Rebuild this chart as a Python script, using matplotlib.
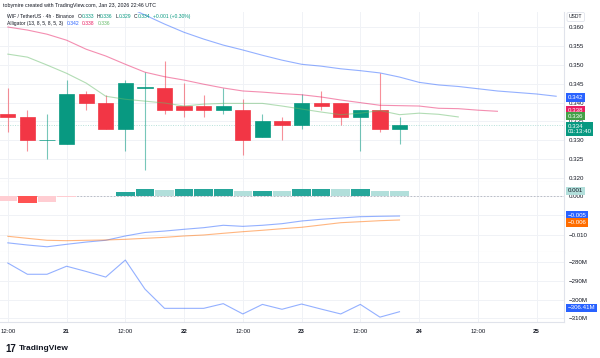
import matplotlib
matplotlib.use("Agg")
import matplotlib.pyplot as plt
from matplotlib.ticker import FuncFormatter

plt.rcParams['font.family'] = ['Liberation Sans', 'DejaVu Sans']

# WIF/USDT 4h candles, 20 Jan 12:00 -> 23 Jan 16:00
opens = [0.3371, 0.3361, 0.3300, 0.3290, 0.3422, 0.3400, 0.3329, 0.3440, 0.3440, 0.3391, 0.3391,
         0.3380, 0.3380, 0.3309, 0.3351, 0.3340, 0.3400, 0.3400, 0.3361, 0.3380, 0.3330]
highs = [0.3440, 0.3380, 0.3371, 0.3460, 0.3431, 0.3420, 0.3460, 0.3482, 0.3511, 0.3451, 0.3420,
         0.3439, 0.3410, 0.3371, 0.3361, 0.3422, 0.3430, 0.3400, 0.3380, 0.3480, 0.3361]
lows = [0.3321, 0.3271, 0.3251, 0.3289, 0.3380, 0.3329, 0.3271, 0.3220, 0.3371, 0.3361, 0.3361,
        0.3371, 0.3260, 0.3309, 0.3302, 0.3331, 0.3380, 0.3340, 0.3271, 0.3321, 0.3291]
closes = [0.3361, 0.3300, 0.3301, 0.3422, 0.3400, 0.3329, 0.3451, 0.3441, 0.3380, 0.3380, 0.3380,
          0.3391, 0.3300, 0.3351, 0.3340, 0.3400, 0.3391, 0.3361, 0.3380, 0.3331, 0.3340]

# alligator (shifted forward), first bar index of each line
jaw_start = 5
jaw = [0.3675, 0.3657, 0.3633, 0.3609, 0.3587, 0.3569, 0.3553, 0.3540, 0.3526, 0.3513, 0.3502,
       0.3497, 0.3490, 0.3485, 0.3479, 0.3468, 0.3454, 0.3447, 0.3443, 0.3437, 0.3431, 0.3427,
       0.3423, 0.3417]
teeth_start = 0
teeth = [0.3601, 0.3593, 0.3582, 0.3566, 0.3542, 0.3524, 0.3502, 0.3481, 0.3469, 0.3460, 0.3449,
         0.3439, 0.3431, 0.3428, 0.3424, 0.3421, 0.3415, 0.3407, 0.3400, 0.3393, 0.3392, 0.3391,
         0.3385, 0.3384, 0.3380, 0.3377]
lips_start = 0
lips = [0.3529, 0.3521, 0.3500, 0.3478, 0.3452, 0.3417, 0.3409, 0.3404, 0.3399, 0.3391, 0.3396,
        0.3398, 0.3398, 0.3398, 0.3391, 0.3383, 0.3375, 0.3368, 0.3372, 0.3379, 0.3368, 0.3372,
        0.3369, 0.3362]

macd_hist = [-0.00135, -0.0018, -0.0015, -0.00045, 0.00004, 0.00003, 0.0010, 0.0016, 0.00158,
             0.00162, 0.00165, 0.0017, 0.0012, 0.00122, 0.0012, 0.0016, 0.00168, 0.00165, 0.0017,
             0.0013, 0.0012]
macd_line = [-0.0120, -0.01255, -0.0130, -0.01237, -0.0118, -0.01135, -0.01025, -0.00936, -0.0090,
             -0.00855, -0.00814, -0.00753, -0.0078, -0.00753, -0.00712, -0.00644, -0.0060,
             -0.00567, -0.00534, -0.00524, -0.00517]
signal_line = [-0.01033, -0.01085, -0.01135, -0.01145, -0.01135, -0.01127, -0.0111, -0.01085,
               -0.0106, -0.01025, -0.0100, -0.00957, -0.00916, -0.0088, -0.0084, -0.00804,
               -0.00746, -0.00687, -0.00662, -0.00636, -0.00618]

obv = [-280.4, -286.4, -286.4, -282.1, -284.9, -287.9, -278.8, -294.3, -304.6, -304.6, -304.6,
       -302.1, -307.6, -302.5, -305.1, -302.3, -305.0, -307.6, -302.5, -309.3, -306.41]

tick_bars = [0, 3, 6, 9, 12, 15, 18, 21, 24, 27]
tick_labels = ['12:00', '21', '12:00', '22', '12:00', '23', '12:00', '24', '12:00', '25']
price_ticks = [0.320, 0.325, 0.330, 0.335, 0.340, 0.345, 0.350, 0.355, 0.360]
macd_ticks = [0.0, -0.005, -0.010]
obv_ticks = [-280, -290, -300, -310]

UP, DOWN = '#089981', '#f23645'
BLUE, PINK, GREEN, ORANGE = '#2962ff', '#e91e63', '#66bb6a', '#ff6d00'
TXT = '#131722'
GRID = '#f0f2f6'
BORDER = '#e0e3eb'
W, H = 600, 358
AX_FS = 4.4     # price / time scale text
LEG_FS = 3.6    # legends

fig = plt.figure(figsize=(W / 100, H / 100), dpi=100)


def box(x0, y0, x1, y1):
    return [x0 / W, 1 - y1 / H, (x1 - x0) / W, (y1 - y0) / H]


ax_p = fig.add_axes(box(0, 12, 564, 182))
ax_m = fig.add_axes(box(0, 182, 564, 252), sharex=ax_p)
ax_o = fig.add_axes(box(0, 252, 564, 322), sharex=ax_p)

for ax in (ax_p, ax_m, ax_o):
    ax.set_facecolor('white')
    for s in ('left', 'top'):
        ax.spines[s].set_visible(False)
    for s in ('right', 'bottom'):
        ax.spines[s].set_color(BORDER)
        ax.spines[s].set_linewidth(0.8)
    ax.yaxis.tick_right()
    ax.tick_params(axis='y', length=0, pad=3.5, labelsize=AX_FS, labelcolor=TXT)
    ax.tick_params(axis='x', length=0)
    ax.set_xticks(tick_bars)
    ax.grid(True, color=GRID, lw=0.7, zorder=0)
    ax.set_axisbelow(True)

ax_p.set_xlim(-0.4, 28.4)
ax_p.tick_params(axis='x', labelbottom=False)
ax_m.tick_params(axis='x', labelbottom=False)

# candles
n = len(closes)
xs = list(range(n))
cols = [UP if c >= o else DOWN for o, c in zip(opens, closes)]
ax_p.vlines(xs, lows, highs, colors=cols, lw=0.8, alpha=0.55, zorder=2)
ax_p.bar(xs, [c - o for o, c in zip(opens, closes)], bottom=opens, width=0.78,
         color=cols, edgecolor=cols, linewidth=0.5, zorder=3)

ax_p.plot(range(jaw_start, jaw_start + len(jaw)), jaw, color=BLUE, lw=0.8, alpha=0.5, zorder=4)
ax_p.plot(range(teeth_start, teeth_start + len(teeth)), teeth, color=PINK, lw=0.8, alpha=0.5, zorder=4)
ax_p.plot(range(lips_start, lips_start + len(lips)), lips, color=GREEN, lw=0.8, alpha=0.5, zorder=4)
ax_p.axhline(closes[-1], color=UP, lw=0.7, ls=(0, (1, 1.5)), alpha=0.3, zorder=1)

ax_p.set_ylim(0.3189, 0.3641)
ax_p.set_yticks(price_ticks)
ax_p.yaxis.set_major_formatter(FuncFormatter(lambda v, _: f'{v:.3f}'))

# MACD
hist_cols = []
for i, h in enumerate(macd_hist):
    prev = macd_hist[i - 1] if i else h - 1
    if h >= 0:
        hist_cols.append('#26a69a' if h > prev else '#b2dfdb')
    else:
        hist_cols.append('#ffcdd2' if h > prev else '#ff5252')
ax_m.axhline(0, color='#b2b5be', lw=0.6, ls=(0, (2, 2)), zorder=1)
ax_m.bar(xs, macd_hist, width=0.95, color=hist_cols, zorder=2)
ax_m.plot(xs, macd_line, color=BLUE, lw=0.8, alpha=0.5, zorder=3)
ax_m.plot(xs, signal_line, color=ORANGE, lw=0.8, alpha=0.5, zorder=3)
ax_m.set_ylim(-0.01433, 0.00349)
ax_m.set_yticks(macd_ticks)
ax_m.yaxis.set_major_formatter(FuncFormatter(lambda v, _: f'{v:.3f}'.replace('-', '\u2212')))

# OBV (millions)
ax_o.plot(xs, obv, color=BLUE, lw=0.8, alpha=0.5, zorder=3)
ax_o.set_ylim(-311.9, -274.5)
ax_o.set_yticks(obv_ticks)
ax_o.yaxis.set_major_formatter(FuncFormatter(lambda v, _: f'{v:.0f}M'.replace('-', '\u2212')))
ax_o.set_xticklabels(tick_labels)
ax_o.tick_params(axis='x', pad=5, labelsize=AX_FS, labelcolor=TXT)
for lab in ax_o.get_xticklabels():
    if ':' not in lab.get_text():
        lab.set_fontweight('bold')


def tag(ax, y, text, fc, tc='white', dy=0, va='center'):
    ax.annotate(text, xy=(1, y), xycoords=('axes fraction', 'data'), xytext=(2.5, dy),
                textcoords='offset points', ha='left', va=va, fontsize=AX_FS, color=tc,
                linespacing=1.0, annotation_clip=False, zorder=20,
                bbox=dict(boxstyle='square,pad=0.3', fc=fc, ec='none'))


tag(ax_p, jaw[-1], f'{jaw[-1]:.3f}', BLUE, dy=-0.8)
tag(ax_p, teeth[-1], f'{teeth[-1]:.3f}', PINK, dy=0.8)
tag(ax_p, lips[-1], f'{lips[-1]:.3f}', '#43a047', dy=0.6)
tag(ax_p, closes[-1], f'{closes[-1]:.3f}\n01:13:40', UP, dy=1.0, va='top')
tag(ax_m, macd_hist[-1], f'{macd_hist[-1]:.3f}', '#b2dfdb', tc=TXT)
tag(ax_m, macd_line[-1], f'{macd_line[-1]:.3f}'.replace('-', '\u2212'), BLUE, dy=0.4)
tag(ax_m, signal_line[-1], f'{signal_line[-1]:.3f}'.replace('-', '\u2212'), ORANGE, dy=-1.8)
tag(ax_o, obv[-1], f'{obv[-1]:.2f}M'.replace('-', '\u2212'), BLUE, dy=2.8)


def legend_row(x, y, parts, size=LEG_FS):
    prev = None
    for s, c, gap in parts:
        if prev is None:
            prev = ax_p.annotate(s, xy=(x, H - y), xycoords='figure pixels', va='center',
                                 ha='left', fontsize=size, color=c, zorder=30,
                                 annotation_clip=False)
        else:
            prev = ax_p.annotate(s, xy=(1, 0.5), xycoords=prev, xytext=(gap, 0),
                                 textcoords='offset points', va='center', ha='left',
                                 fontsize=size, color=c, zorder=30, annotation_clip=False)


fig.text(3 / W, 1 - 6 / H, 'tobymire created with TradingView.com, Jan 23, 2026 22:46 UTC',
         fontsize=3.8, color=TXT, va='center', ha='left')

legend_row(7, 16.5, [('WIF / TetherUS \u00b7 4h \u00b7 Binance', TXT, 0),
                     ('O', TXT, 2.5), (f'{opens[-1]:.3f}', UP, 0),
                     ('H', TXT, 2), (f'{highs[-1]:.3f}', UP, 0),
                     ('L', TXT, 2), (f'{lows[-1]:.3f}', UP, 0),
                     ('C', TXT, 2), (f'{closes[-1]:.3f}', UP, 0),
                     ('+0.001 (+0.30%)', UP, 2)])
legend_row(7, 23.5, [('Alligator (13, 8, 5, 8, 5, 3)', TXT, 0),
                     (f'{jaw[-1]:.3f}', BLUE, 2.5), (f'{teeth[-1]:.3f}', PINK, 2),
                     (f'{lips[-1]:.3f}', GREEN, 2)])
legend_row(7, 188.5, [('MACD (close, 12, 26, 9)', TXT, 0),
                      (f'{macd_hist[-1]:.3f}', '#b2dfdb', 2.5),
                      (f'{macd_line[-1]:.3f}'.replace('-', '\u2212'), BLUE, 2),
                      (f'{signal_line[-1]:.3f}'.replace('-', '\u2212'), ORANGE, 2)])
legend_row(7, 258, [('OBV', TXT, 0),
                    (f'{obv[-1]:.2f}M'.replace('-', '\u2212'), BLUE, 2.5)])

fig.text(569 / W, 1 - 17 / H, 'USDT', fontsize=3.6, color=TXT, va='center', ha='left',
         bbox=dict(boxstyle='round,pad=0.4,rounding_size=0.3', fc='white', ec=BORDER, lw=0.6))

# logo
fig.text(5 / W, 1 - 349 / H, '17', fontsize=7, fontweight='bold', color=TXT,
         va='center', ha='left')
fig.text(19 / W, 1 - 349 / H, 'TradingView', fontsize=6, fontweight='bold', color=TXT,
         va='center', ha='left')

fig.savefig('out.png', dpi=100, facecolor='white')
